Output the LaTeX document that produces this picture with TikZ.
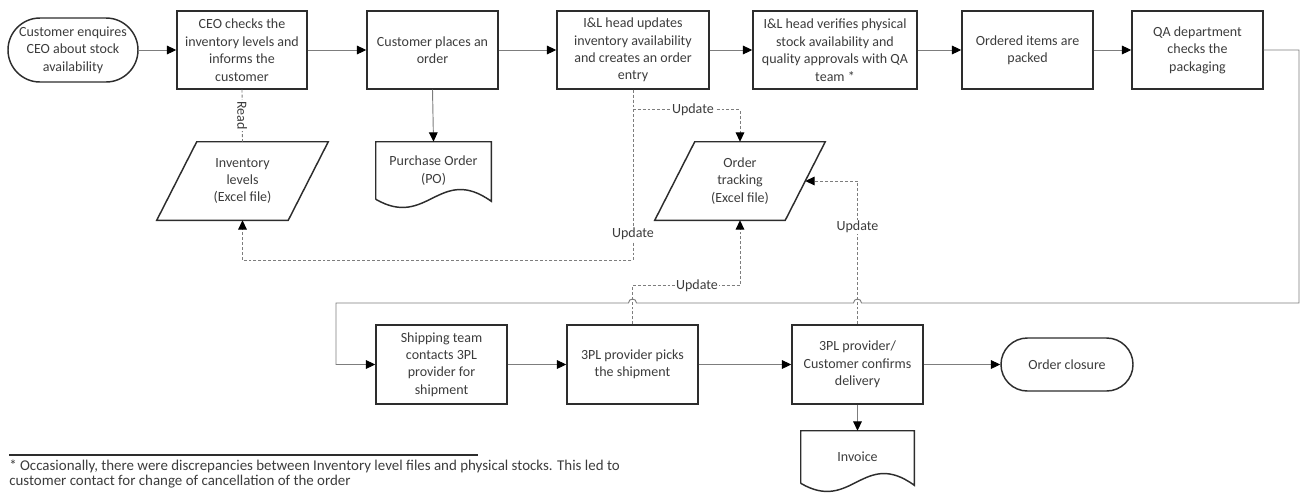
\documentclass[tikz,border=0pt]{standalone}
\usepackage{fontspec}
\setmainfont{Carlito}
\usetikzlibrary{arrows.meta,calc}
\definecolor{ink}{RGB}{45,45,45}
\definecolor{type}{RGB}{60,60,60}
\definecolor{wire}{RGB}{125,125,125}

\begin{document}
\begin{tikzpicture}[x=0.75pt,y=-0.75pt,
  font=\fontsize{10.5pt}{13.1pt}\selectfont, text=type,
  stepbox/.style={draw=ink, line width=1.1pt, align=center, inner sep=0pt,
    minimum width=98.25pt, minimum height=58.5pt},
  lowbox/.style={stepbox, minimum height=59.25pt},
  term/.style={draw=ink, line width=1.1pt, align=center, inner sep=0pt},
  store/.style={align=center, inner sep=0pt, minimum height=58.5pt},
  doc/.style={align=center, inner sep=0pt},
  outline/.style={draw=ink, line width=1.1pt},
  flow/.style={draw=wire, line width=0.7pt, -{Triangle[length=7pt,width=6.5pt,color=black]}},
  link/.style={draw=wire, line width=0.7pt, dash pattern=on 2.2pt off 1.5pt},
  data/.style={link, -{Triangle[length=7pt,width=6.5pt,color=black]}},
  lbl/.style={fill=white, inner sep=1pt, text=type}
]
\useasboundingbox (0,0) rectangle (1303,497);

% ---- upper process row ----
\node[term, minimum width=97.5pt, minimum height=48pt, rounded corners=24pt] (start) at (73,50)
  {Customer enquires\\CEO about stock\\availability};
\node[stepbox, minimum width=97.5pt] (ceo) at (242,50) {CEO checks the\\inventory levels and\\informs the\\customer};
\node[stepbox] (place) at (432.5,50) {Customer places an\\order};
\node[stepbox, minimum width=114pt] (ilu) at (633,50) {I\&L head updates\\inventory availability\\and creates an order\\entry};
\node[stepbox, minimum width=123pt] (ilv) at (835,50) {I\&L head verifies physical\\stock availability and\\quality approvals with QA\\team *};
\node[stepbox] (pack) at (1027.5,50) {Ordered items are\\packed};
\node[stepbox] (qa) at (1197.5,50) {QA department\\checks the\\packaging};

% ---- data stores ----
\node[store, minimum width=98.25pt] (inv) at (242.5,181) {Inventory\\levels\\(Excel file)};
\draw[outline] ([xshift=15pt]inv.north west) -- ([xshift=15pt]inv.north east)
  -- ([xshift=-15pt]inv.south east) -- ([xshift=-15pt]inv.south west) -- cycle;
\node[store, minimum width=97.5pt] (trk) at (740,181) {Order\\tracking\\(Excel file)};
\draw[outline] ([xshift=15pt]trk.north west) -- ([xshift=15pt]trk.north east)
  -- ([xshift=-15pt]trk.south east) -- ([xshift=-15pt]trk.south west) -- cycle;

% ---- documents ----
\node[doc, minimum width=86.25pt, minimum height=42.75pt] (po) at (433.5,170.5) {Purchase Order\\(PO)};
\draw[outline] (po.south west) -- (po.north west) -- (po.north east) -- ([yshift=-1.5pt]po.south east)
  .. controls +(-51.75,-37) and +(51.75,30) .. (po.south west);

% ---- lower process row ----
\node[lowbox] (ship) at (441.5,364.5) {Shipping team\\contacts 3PL\\provider for\\shipment};
\node[lowbox] (picks) at (632.5,364.5) {3PL provider picks\\the shipment};
\node[lowbox] (conf) at (857.5,364.5) {3PL provider/\\Customer confirms\\delivery};
\node[term, minimum width=99pt, minimum height=39.75pt, rounded corners=19.8pt] (close) at (1067,364.5) {Order closure};
\node[doc, minimum width=84.75pt, minimum height=39pt] (bill) at (857.5,457) {Invoice};
\draw[outline] (bill.south west) -- (bill.north west) -- (bill.north east) -- ([yshift=-1.5pt]bill.south east)
  .. controls +(-50.85,-37) and +(50.85,30) .. (bill.south west);

% ---- main flow ----
\draw[flow] (start) -- (ceo);
\draw[flow] (ceo) -- (place);
\draw[flow] (place) -- (ilu);
\draw[flow] (ilu) -- (ilv);
\draw[flow] (ilv) -- (pack);
\draw[flow] (pack) -- (qa);
\draw[flow] (place.south) -- (po.north);
\draw[flow] (ship) -- (picks);
\draw[flow] (picks) -- (conf);
\draw[flow] (conf) -- (close);
\draw[flow] (conf.south) -- (bill.north);

% ---- data links ----
\draw[link] (ceo.south) -- node[lbl, rotate=-90] {Read} (inv.north);
\draw[data] (ilu.south) -- node[lbl, pos=0.84] {Update} ++(0,171) -| (inv.south);
\draw[data] (ilu.south) -- ++(0,20) -| node[lbl, pos=0.28] {Update} (trk.north);
\draw[data] (picks.north) -- ++(0,-39) -| node[lbl, pos=0.3] {Update} (trk.south);
\draw[data] (conf.north) |- node[lbl, pos=0.34] {Update} (trk.east);

% ---- hand-over from packaging check to shipping, hopping over the data links ----
\coordinate (loopNE) at (1299,303);
\coordinate (loopSW) at (336,303);
\coordinate (jA) at (picks.north |- loopNE);
\coordinate (jB) at (conf.north |- loopNE);
\draw[flow] (qa.east) -| (loopNE) -- ([xshift=3pt]jB) arc[start angle=0, end angle=180, radius=3pt]
  -- ([xshift=3pt]jA) arc[start angle=0, end angle=180, radius=3pt] -- (loopSW) |- (ship.west);

% ---- footnote ----
\draw[ink, line width=1.1pt] (9,455) -- (478,455);
\node[anchor=west, align=left, inner sep=0pt, font=\fontsize{11.2pt}{10.6pt}\selectfont] (note) at (9,474)
  {* Occasionally, there were discrepancies between Inventory level files and physical stocks. This led to\\
   customer contact for change of cancellation of the order};
\end{tikzpicture}
\end{document}
